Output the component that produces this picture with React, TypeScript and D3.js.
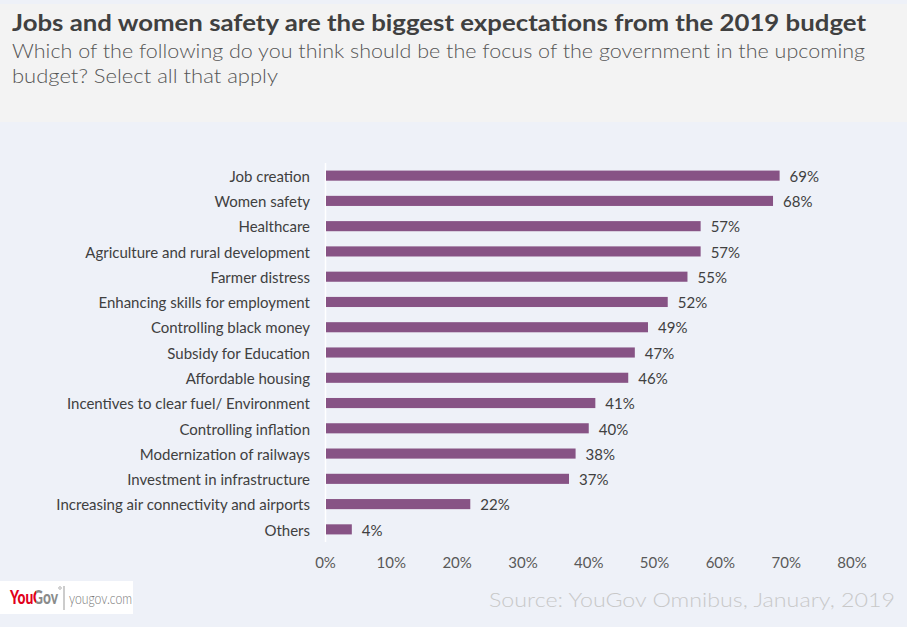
import React from "react";
import * as d3 from "d3";

const categories = [
  "Job creation",
  "Women safety",
  "Healthcare",
  "Agriculture and rural development",
  "Farmer distress",
  "Enhancing skills for employment",
  "Controlling black money",
  "Subsidy for Education",
  "Affordable housing",
  "Incentives to clear fuel/ Environment",
  "Controlling inflation",
  "Modernization of railways",
  "Investment in infrastructure",
  "Increasing air connectivity and airports",
  "Others",
];
const values = [69, 68, 57, 57, 55, 52, 49, 47, 46, 41, 40, 38, 37, 22, 4];
const ticks = [0, 10, 20, 30, 40, 50, 60, 70, 80];

const title = "Jobs and women safety are the biggest expectations from the 2019 budget";
const subtitle1 = "Which of the following do you think should be the focus of the government in the upcoming";
const subtitle2 = "budget? Select all that apply";
const source = "Source: YouGov Omnibus, January, 2019";

export default function App() {
  const W = 907, H = 627;
  const x = d3.scaleLinear().domain([0, 80]).range([325.5, 852]);
  const y = d3.scaleBand().domain(categories).range([163, 542]).paddingInner(0.6).paddingOuter(0.3);
  const font = "Lato, 'Open Sans', sans-serif";
  const fs = 15;
  return (
    <svg width={W} height={H} style={{ position: "absolute", left: 0, top: 0, display: "block" }}>
      <defs>
        <linearGradient id="logoFill" gradientUnits="userSpaceOnUse" x1={10} x2={58} y1={0} y2={0}>
          <stop offset="0.54" stopColor="#e0001b" />
          <stop offset="0.54" stopColor="#8a8a8a" />
        </linearGradient>
      </defs>
      <rect x={0} y={0} width={W} height={H} fill="#eef1f8" />
      <rect x={0} y={4} width={W} height={118} fill="#f3f3f3" />
      <text x={12} y={31} fontFamily={font} fontWeight={700} fontSize={22} fill="#404040" textLength={854} lengthAdjust="spacingAndGlyphs">{title}</text>
      <text x={12} y={58} fontFamily={font} fontWeight={300} fontSize={20} fill="#555" textLength={853} lengthAdjust="spacingAndGlyphs">{subtitle1}</text>
      <text x={12} y={83} fontFamily={font} fontWeight={300} fontSize={20} fill="#555" textLength={266} lengthAdjust="spacingAndGlyphs">{subtitle2}</text>
      <line x1={x(0)} x2={x(0)} y1={163} y2={542} stroke="#ffffff" strokeWidth={1.5} />
      {categories.map((c, i) => {
        const cy = (y(c) as number) + y.bandwidth() / 2;
        return (
          <g key={c}>
            <text x={310} y={cy + 1} dy="0.35em" textAnchor="end" fontFamily={font} fontSize={fs} fill="#404040">{c}</text>
            <rect x={x(0) + 0.5} y={y(c)} width={x(values[i]) - x(0) - 0.5} height={y.bandwidth()} fill="#875385" />
            <text x={x(values[i]) + 10} y={cy + 1} dy="0.35em" fontFamily={font} fontSize={fs} fill="#404040">{values[i]}%</text>
          </g>
        );
      })}
      {ticks.map((t) => (
        <text key={t} x={x(t)} y={563} dy="0.35em" textAnchor="middle" fontFamily={font} fontSize={fs} fill="#595959">{t}%</text>
      ))}
      <rect x={0} y={581} width={133} height={33} fill="#ffffff" />
      <text x={10} y={604} fontFamily={font} fontWeight={900} fontSize={18} fill="url(#logoFill)" textLength={48} lengthAdjust="spacingAndGlyphs">YouGov</text>
      <circle cx={60} cy={588} r={1.3} fill="none" stroke="#8a8a8a" strokeWidth={0.6} />
      <line x1={64} x2={64} y1={586} y2={610} stroke="#999" strokeWidth={1} />
      <text x={69} y={604} fontFamily={font} fontWeight={300} fontSize={16} fill="#777" textLength={63} lengthAdjust="spacingAndGlyphs">yougov.com</text>
      <text x={895} y={607} textAnchor="end" fontFamily={font} fontWeight={300} fontSize={20} fill="#c8c8c8" textLength={406} lengthAdjust="spacingAndGlyphs">{source}</text>
    </svg>
  );
}
